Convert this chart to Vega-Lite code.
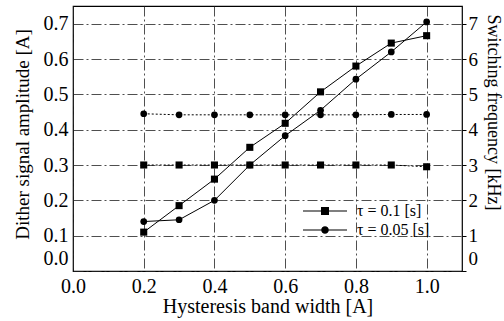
{
  "$schema": "https://vega.github.io/schema/vega-lite/v6.json",
  "width": 389,
  "height": 265,
  "autosize": {"type": "none"},
  "padding": {"left": 73, "top": 6, "right": 42, "bottom": 50},
  "background": "white",
  "config": {
    "font": "Liberation Serif",
    "view": {"stroke": "black", "strokeWidth": 1.2},
    "axis": {
      "labelFont": "Liberation Serif",
      "titleFont": "Liberation Serif",
      "labelColor": "black",
      "titleColor": "black",
      "titleFontWeight": "normal",
      "domain": false,
      "gridColor": "#222",
      "gridWidth": 0.8,
      "gridDash": [10, 3, 2, 3],
      "tickColor": "black"
    }
  },
  "data": {
    "values": [
      {"x": 0.2, "tau": "τ = 0.1 [s]", "amp": 0.11, "freq": 3.0},
      {"x": 0.3, "tau": "τ = 0.1 [s]", "amp": 0.185, "freq": 3.0},
      {"x": 0.4, "tau": "τ = 0.1 [s]", "amp": 0.26, "freq": 3.0},
      {"x": 0.5, "tau": "τ = 0.1 [s]", "amp": 0.35, "freq": 3.0},
      {"x": 0.6, "tau": "τ = 0.1 [s]", "amp": 0.418, "freq": 3.0},
      {"x": 0.7, "tau": "τ = 0.1 [s]", "amp": 0.507, "freq": 3.0},
      {"x": 0.8, "tau": "τ = 0.1 [s]", "amp": 0.58, "freq": 3.0},
      {"x": 0.9, "tau": "τ = 0.1 [s]", "amp": 0.645, "freq": 3.0},
      {"x": 1.0, "tau": "τ = 0.1 [s]", "amp": 0.666, "freq": 2.95},
      {"x": 0.2, "tau": "τ = 0.05 [s]", "amp": 0.14, "freq": 4.45},
      {"x": 0.3, "tau": "τ = 0.05 [s]", "amp": 0.145, "freq": 4.42},
      {"x": 0.4, "tau": "τ = 0.05 [s]", "amp": 0.2, "freq": 4.42},
      {"x": 0.5, "tau": "τ = 0.05 [s]", "amp": 0.3, "freq": 4.42},
      {"x": 0.6, "tau": "τ = 0.05 [s]", "amp": 0.383, "freq": 4.42},
      {"x": 0.7, "tau": "τ = 0.05 [s]", "amp": 0.455, "freq": 4.42},
      {"x": 0.8, "tau": "τ = 0.05 [s]", "amp": 0.543, "freq": 4.42},
      {"x": 0.9, "tau": "τ = 0.05 [s]", "amp": 0.62, "freq": 4.43},
      {"x": 1.0, "tau": "τ = 0.05 [s]", "amp": 0.705, "freq": 4.43}
    ]
  },
  "encoding": {
    "x": {
      "field": "x", "type": "quantitative",
      "scale": {"domain": [0, 1.1], "nice": false, "zero": false},
      "axis": {
        "title": "Hysteresis band width [A]",
        "values": [0, 0.2, 0.4, 0.6, 0.8, 1.0],
        "format": ".1f",
        "labelFontSize": 20,
        "titleFontSize": 20,
        "ticks": false,
        "labelPadding": 5,
        "titlePadding": 0,
        "labelFlush": false
      }
    }
  },
  "layer": [
    {
      "encoding": {
        "y": {
          "field": "amp", "type": "quantitative",
          "scale": {"domain": [0, 0.75], "nice": false},
          "axis": {
            "orient": "left",
            "title": "Dither signal amplitude [A]",
            "values": [0, 0.1, 0.2, 0.3, 0.4, 0.5, 0.6, 0.7],
            "format": ".1f",
            "labelFontSize": 20,
            "titleFontSize": 19,
            "ticks": false,
            "labelPadding": 5,
            "titlePadding": 11,
            "titleY": 128,
            "labelFlush": true,
            "labelFlushOffset": -3
          }
        }
      },
      "layer": [
        {
          "mark": {"type": "line", "color": "black", "strokeWidth": 1},
          "encoding": {"detail": {"field": "tau"}}
        },
        {
          "transform": [{"filter": "datum.tau === 'τ = 0.1 [s]'"}],
          "mark": {"type": "point", "shape": "square", "filled": true, "color": "black", "opacity": 1, "size": 50}
        },
        {
          "transform": [{"filter": "datum.tau === 'τ = 0.05 [s]'"}],
          "mark": {"type": "point", "shape": "circle", "filled": true, "color": "black", "opacity": 1, "size": 45}
        },
        {
          "mark": {"type": "point", "filled": true, "color": "black", "opacity": 0},
          "encoding": {
            "shape": {
              "field": "tau", "type": "nominal",
              "scale": {
                "domain": ["τ = 0.1 [s]", "τ = 0.05 [s]"],
                "range": [
                  "M-2.2,-0.05H2.2V0.05H-2.2ZM-0.4,-0.4H0.4V0.4H-0.4Z",
                  "M-2.2,-0.05H2.2V0.05H-2.2ZM0.38,0A0.38,0.38,0,1,1,-0.38,0A0.38,0.38,0,1,1,0.38,0Z"
                ]
              },
              "legend": {
                "title": null,
                "orient": "none",
                "legendX": 242,
                "legendY": 195,
                "labelFont": "Liberation Serif",
                "labelFontSize": 16,
                "labelColor": "black",
                "symbolSize": 400,
                "symbolOpacity": 1,
                "symbolFillColor": "black",
                "symbolStrokeColor": "black",
                "symbolStrokeWidth": 0,
                "rowPadding": 1,
                "labelOffset": 22
              }
            }
          }
        }
      ]
    },
    {
      "encoding": {
        "y": {
          "field": "freq", "type": "quantitative",
          "scale": {"domain": [0, 7.5], "nice": false},
          "axis": {
            "orient": "right",
            "title": "Switching frequency [kHz]",
            "values": [0, 1, 2, 3, 4, 5, 6, 7],
            "labelFontSize": 19,
            "titleFontSize": 18,
            "grid": false,
            "ticks": true,
            "tickSize": 4,
            "labelPadding": 2,
            "titlePadding": 6,
            "titleY": 106,
            "labelFlush": true,
            "labelFlushOffset": -3
          }
        }
      },
      "layer": [
        {
          "mark": {"type": "line", "color": "black", "strokeWidth": 1, "strokeDash": [2, 2]},
          "encoding": {"detail": {"field": "tau"}}
        },
        {
          "transform": [{"filter": "datum.tau === 'τ = 0.1 [s]'"}],
          "mark": {"type": "point", "shape": "square", "filled": true, "color": "black", "opacity": 1, "size": 50}
        },
        {
          "transform": [{"filter": "datum.tau === 'τ = 0.05 [s]'"}],
          "mark": {"type": "point", "shape": "circle", "filled": true, "color": "black", "opacity": 1, "size": 45}
        }
      ]
    }
  ],
  "resolve": {"scale": {"y": "independent"}}
}
